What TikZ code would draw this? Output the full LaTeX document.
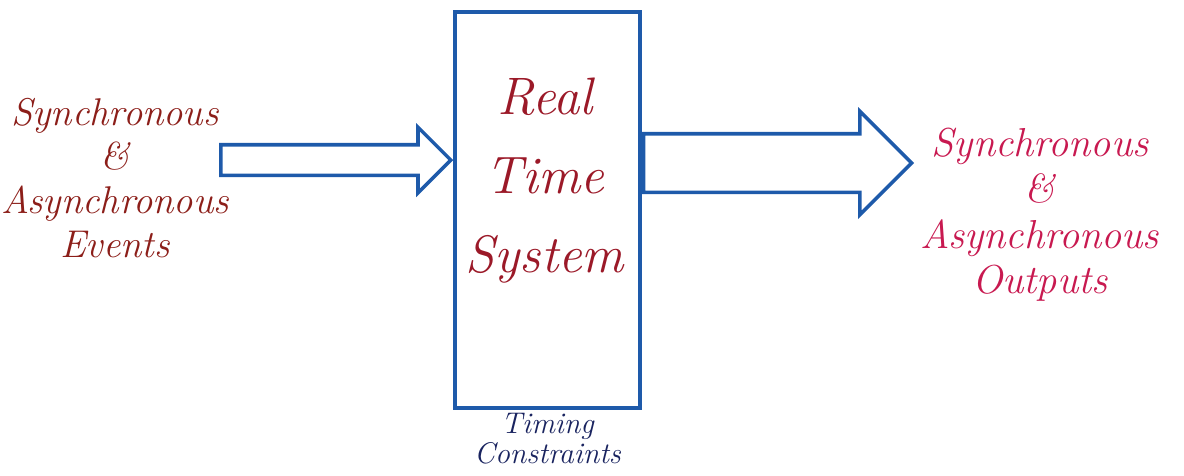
\documentclass[tikz,border=0pt]{standalone}
\usepackage{xcolor}
\usepackage{tikz}
\usetikzlibrary{shapes, arrows, positioning, calc}
\definecolor{inkblue}{RGB}{30,90,170}
\definecolor{inkbrown}{RGB}{140,30,25}
\definecolor{inkred}{RGB}{155,25,40}
\definecolor{inkcrimson}{RGB}{200,25,80}
\definecolor{inknavy}{RGB}{25,35,95}
\tikzset{
    sysbox/.style={
        rectangle,
        draw=inkblue,
        line width=2pt,
        minimum width=3.7cm,
        minimum height=7.92cm,
    },
        hollowarrow/.style={
        single arrow,
        draw=inkblue,
        line width=2pt,
        text height=0pt,
        text depth=0pt,
        inner xsep=0pt,
        single arrow tip angle=90,
    },
    handtext/.style={
        align=center,
        font=\itshape\fontsize{22}{25}\selectfont,
    },
}

\begin{document}
\begin{tikzpicture}[node distance=0.1cm and 0.1cm]
          \useasboundingbox (0,0) rectangle (23.68,-9.5);
          \node [sysbox] (rts) at (10.95,-4.2) {};
          \node [handtext, text=inkred, font=\itshape\fontsize{30}{45}\selectfont] (rtslabel) at (10.9,-3.62) {Real\\Time\\System};

          \node [hollowarrow, inner ysep=0.27cm, single arrow head extend=0.35cm, minimum height=4.6cm, anchor=tip] (inarrow) at ([yshift=1cm]rts.west) {};
          \node [hollowarrow, inner ysep=0.55cm, single arrow head extend=0.45cm, minimum height=5.36cm, anchor=tail] (outarrow) at ([yshift=0.94cm]rts.east) {};

          \node [handtext, text=inkbrown] (events) at (2.3,-3.56) {Synchronous\\\&\\Asynchronous\\Events};
          \node [handtext, text=inkcrimson, font=\itshape\fontsize{23}{26}\selectfont] (outputs) at (20.8,-4.3) {Synchronous\\\&\\Asynchronous\\Outputs};
          \node [handtext, text=inknavy, font=\itshape\fontsize{17}{17}\selectfont, inner sep=1pt] (timing) [below=0.02cm of rts] {Timing\\Constraints};
        \end{tikzpicture}
\end{document}
